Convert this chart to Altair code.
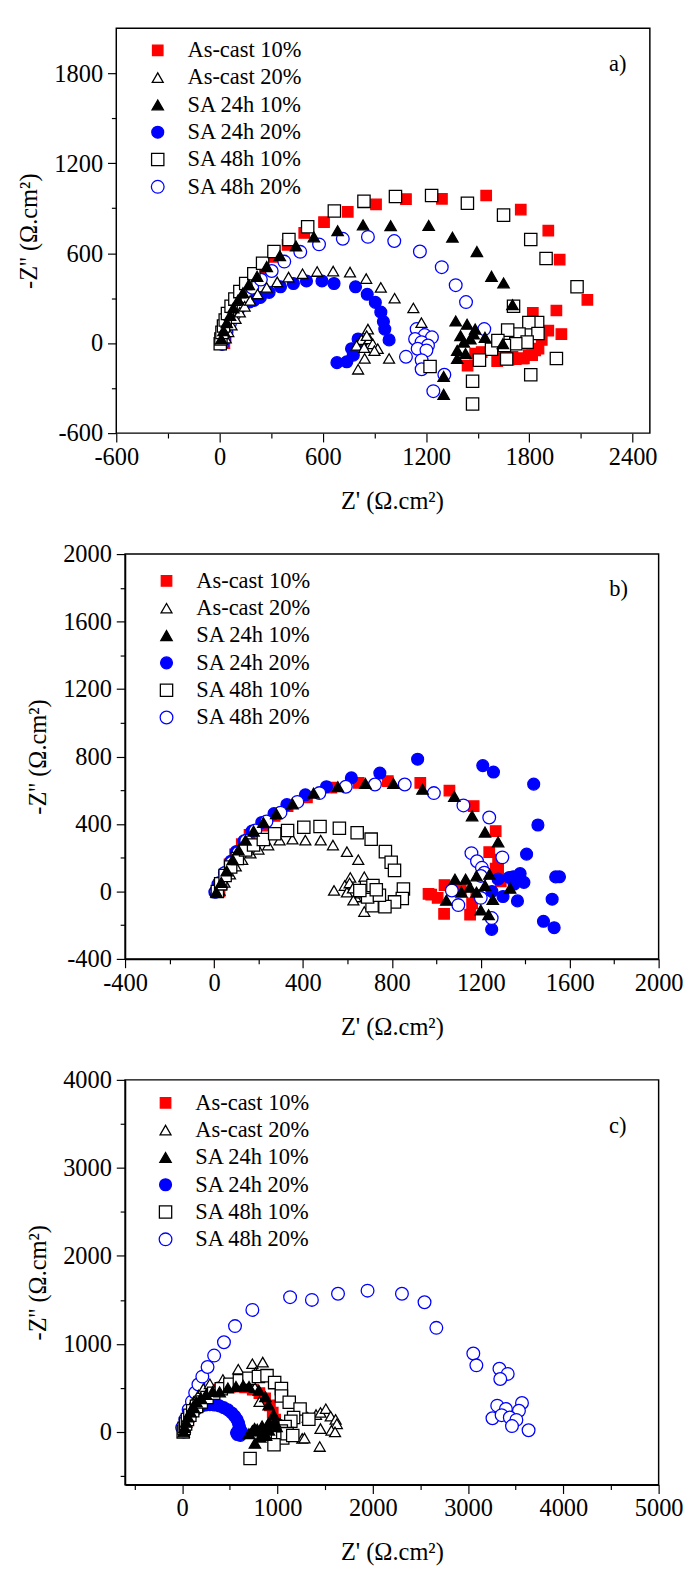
import altair as alt
import pandas as pd

FONT = "Liberation Serif"
SERIES = ["As-cast 10%", "As-cast 20%", "SA 24h 10%", "SA 24h 20%", "SA 48h 10%", "SA 48h 20%"]
SHAPES = ["square", "triangle-up", "triangle-up", "circle", "square", "circle"]
STROKES = ["#ff0000", "#000000", "#000000", "#0000ff", "#000000", "#0000ff"]
FILLS = ["#ff0000", "#ffffff", "#000000", "#0000ff", "#ffffff", "#ffffff"]
SIZES = [115, 170, 170, 115, 100, 120]
DRAW_ORDER = [0, 3, 5, 1, 4, 2]

# ---------------- panel a ----------------
A_AC10_X = [28, 35, 45, 60, 80, 105, 135, 170, 210, 250, 312, 395, 492, 607, 745, 909, 1083, 1292, 1549, 1750, 1910, 1976, 2137, 1957, 1820, 1986, 1910, 1872, 1834, 1796, 1768, 1721, 1680, 1640, 1613, 1523, 1485, 1441, 1853, 1816, 1759, 1702]
A_AC10_Y = [0, 40, 90, 150, 210, 275, 340, 400, 450, 496, 576, 655, 735, 807, 876, 926, 961, 963, 985, 891, 750, 557, 289, 218, 202, 61, 83, 22, -48, -80, -102, -107, -110, -100, -120, -59, -70, -150, -37, -80, -102, -91]
A_AC20_X = [36, 51, 70, 93, 118, 146, 178, 221, 274, 335, 401, 482, 567, 660, 758, 852, 937, 1017, 1126, 1173, 862, 824, 871, 890, 919, 796, 843, 985, 805, 855, 900, 840]
A_AC20_Y = [33, 76, 120, 163, 207, 246, 285, 328, 372, 409, 441, 463, 478, 481, 474, 431, 372, 300, 235, 137, 94, 24, 28, -4, -37, -15, -102, -102, -174, 50, -50, -30]
A_S2410_X = [10, 23, 42, 61, 80, 108, 136, 170, 218, 274, 350, 444, 548, 686, 834, 994, 1215, 1353, 1495, 1580, 1650, 1702, 1372, 1438, 1485, 1542, 1400, 1457, 1419, 1381, 1429, 1381, 1646, 1476, 1302, 1302]
A_S2410_Y = [28, 83, 137, 185, 235, 289, 337, 391, 446, 511, 583, 648, 709, 750, 789, 783, 785, 707, 611, 446, 402, 257, 148, 126, 94, 39, 50, 28, 7, -48, -69, -102, -4, 61, -222, -341]
A_S2420_X = [14, 22, 30, 42, 58, 80, 108, 140, 175, 200, 237, 288, 354, 429, 505, 595, 665, 790, 858, 905, 937, 952, 960, 985, 805, 820, 767, 777, 739, 682]
A_S2420_Y = [-4, 30, 65, 105, 145, 185, 222, 255, 275, 285, 305, 339, 376, 398, 415, 415, 398, 376, 326, 272, 207, 144, 94, 22, 28, -10, -37, -80, -124, -130]
A_S4810_X = [4, 8, 14, 23, 33, 46, 67, 89, 118, 152, 199, 250, 316, 403, 512, 667, 839, 1022, 1232, 1440, 1650, 1808, 1897, 2077, 1708, 1848, 1797, 1850, 1740, 1674, 1787, 1721, 1655, 1580, 1617, 1668, 1510, 1957, 1808, 1223, 1470, 1470]
A_S4810_Y = [-4, 28, 72, 115, 155, 198, 246, 294, 344, 398, 463, 533, 611, 692, 776, 881, 946, 978, 985, 933, 854, 691, 565, 376, 246, 137, 137, 65, 61, 87, 7, -4, -15, -41, 17, -106, -113, -102, -211, -156, -254, -406]
A_S4820_X = [15, 25, 40, 60, 85, 115, 150, 190, 240, 303, 376, 469, 578, 716, 862, 1015, 1164, 1291, 1372, 1432, 1538, 1145, 1192, 1234, 1136, 1174, 1211, 1151, 1202, 1083, 1174, 1174, 1306, 1242]
A_S4820_Y = [-5, 25, 75, 130, 190, 250, 310, 370, 424, 481, 544, 609, 659, 696, 709, 681, 611, 507, 387, 274, 94, 94, 54, 39, 28, 7, -15, -37, -48, -91, -113, -174, -211, -320]

# ---------------- panel b ----------------
B_AC10_X = [25, 35, 50, 70, 95, 125, 160, 222, 273, 331, 418, 528, 651, 782, 928, 1059, 1168, 1267, 1238, 1278, 1267, 1037, 965, 977, 1006, 1035, 1152, 1161, 1278, 1290, 1180, 1110]
B_AC10_Y = [0, 45, 100, 160, 220, 280, 335, 390, 448, 506, 558, 615, 644, 654, 644, 598, 506, 358, 233, 188, 136, 38, -14, -19, -38, -133, -138, -71, 131, 60, -20, 10]
B_AC20_X = [25, 47, 72, 98, 127, 164, 200, 244, 295, 353, 411, 480, 535, 598, 649, 613, 676, 588, 540, 598, 637, 676, 627, 610, 625, 660]
B_AC20_Y = [6, 54, 102, 150, 188, 227, 250, 275, 304, 310, 304, 304, 275, 236, 188, 83, 87, 35, 6, -4, -33, -119, -52, 50, 20, -10]
B_S2410_X = [11, 33, 57, 84, 110, 142, 178, 222, 280, 353, 448, 557, 681, 807, 938, 1081, 1161, 1219, 1278, 1084, 1132, 1181, 1239, 1219, 1151, 1113, 1045, 1200, 1235, 1254, 1332, 1181]
B_S2410_Y = [-4, 54, 121, 188, 246, 304, 358, 409, 461, 519, 583, 621, 640, 640, 606, 563, 448, 352, 294, 73, 73, 92, 102, 35, 25, -4, -52, -110, -138, -48, 19, -4]
B_S2420_X = [4, 18, 47, 76, 101, 135, 171, 215, 270, 328, 411, 506, 618, 746, 916, 1209, 1257, 1438, 1457, 1406, 1377, 1537, 1328, 1278, 1350, 1249, 1482, 1530, 1521, 1554, 1365, 1346, 1394, 1300, 1250]
B_S2420_Y = [-4, 44, 111, 179, 237, 300, 358, 409, 461, 515, 573, 621, 673, 702, 784, 746, 708, 636, 394, 221, 106, 86, 83, 73, 44, -225, -177, -215, -46, 87, -56, 87, 54, -30, 0]
B_S4810_X = [15, 30, 50, 75, 105, 142, 178, 222, 273, 331, 404, 477, 564, 644, 707, 771, 797, 812, 852, 847, 812, 769, 711, 691, 686, 656, 715, 744, 730]
B_S4810_Y = [0, 45, 95, 145, 195, 246, 275, 308, 342, 361, 381, 385, 375, 348, 310, 236, 173, 125, 15, -42, -62, -90, -85, -33, 25, 6, 35, -23, 10]
B_S4820_X = [10, 25, 50, 80, 110, 145, 186, 236, 299, 375, 474, 593, 724, 858, 989, 1122, 1238, 1158, 1183, 1297, 1205, 1216, 1070, 1099, 1200, 1249, 1200]
B_S4820_Y = [0, 50, 110, 170, 230, 300, 361, 415, 467, 531, 583, 621, 634, 634, 583, 510, 438, 227, 179, 202, 140, 111, 6, -81, -38, -158, 92]

# ---------------- panel c ----------------
C_AC10_X = [20, 30, 45, 65, 90, 120, 160, 210, 270, 340, 420, 500, 580, 660, 740, 810, 870, 920, 950, 975, 990, 1000]
C_AC10_Y = [0, 50, 110, 170, 230, 290, 345, 400, 445, 480, 505, 515, 515, 505, 480, 440, 380, 300, 220, 140, 80, 20]
C_AC20_X = [15, 16, 16, 50, 85, 119, 170, 222, 290, 427, 588, 736, 845, 770, 1010, 763, 811, 1027, 1012, 1260, 1317, 1404, 1451, 1507, 1558, 1610, 1623, 1566, 1451, 1604, 1443, 1283]
C_AC20_Y = [0, 60, 123, 197, 270, 344, 418, 491, 547, 595, 712, 775, 793, 676, 554, 503, 344, 97, 55, -74, 166, 197, 221, 263, 178, 142, 92, 18, 37, 0, -166, -70]
C_S2410_X = [15, 25, 40, 60, 85, 115, 150, 195, 250, 320, 393, 479, 564, 640, 701, 804, 873, 907, 959, 907, 838, 787, 736, 763, 820, 850, 880, 910, 740, 700, 760, 990, 970]
C_S2410_Y = [0, 50, 110, 170, 230, 290, 340, 385, 425, 460, 455, 499, 517, 528, 517, 473, 399, 307, 197, 105, 68, 31, 13, -129, -60, 0, -40, 20, 10, -20, 40, 60, 120]
C_S2420_X = [15, 20, 30, 45, 65, 90, 120, 155, 195, 240, 290, 340, 390, 435, 480, 520, 550, 575, 590, 600, 590, 570, 580, 610, 625, 600]
C_S2420_Y = [0, 40, 80, 120, 160, 200, 235, 265, 290, 305, 310, 305, 295, 275, 250, 215, 180, 140, 100, 60, 20, -10, -30, -40, 0, 40]
C_S4810_X = [10, 20, 35, 55, 80, 110, 150, 200, 260, 330, 410, 500, 600, 700, 800, 890, 970, 1041, 1041, 1123, 1237, 1169, 1140, 1080, 1040, 1000, 1055, 963, 1100, 1160, 712, 1329]
C_S4810_Y = [0, 40, 90, 140, 190, 240, 290, 340, 390, 440, 490, 540, 580, 610, 630, 639, 560, 492, 407, 337, 260, 163, 120, 60, 10, -31, -70, -147, -20, -40, -302, 143]
C_S4820_X = [-1, 33, 67, 102, 136, 170, 211, 266, 335, 438, 554, 736, 1132, 1361, 1635, 1945, 2306, 2543, 2667, 3055, 3087, 3329, 3416, 3338, 3566, 3306, 3397, 3534, 3256, 3352, 3438, 3507, 3461, 3635]
C_S4820_Y = [49, 141, 252, 344, 444, 539, 628, 738, 867, 1018, 1202, 1386, 1531, 1500, 1570, 1605, 1570, 1473, 1182, 891, 756, 717, 659, 601, 329, 298, 260, 240, 155, 190, 163, 136, 66, 19]

# axis ticks
A_XTICKS = list(range(-600, 2401, 300)); A_YTICKS = list(range(-600, 1801, 300))
B_XTICKS = list(range(-400, 2001, 200)); B_YTICKS = list(range(-400, 2001, 200))
C_XTICKS = list(range(-500, 5001, 500)); C_YTICKS = list(range(-500, 4001, 500))

PLOT_W, PLOT_H = 547, 415
EXTRA_A = 18  # invisible strip on the right of panel a (shifts panels b, c when centred)


def build_df(xs, ys):
    rows = []
    for si in DRAW_ORDER:
        for x, y in zip(xs[si], ys[si]):
            rows.append({"x": x, "y": y, "series": SERIES[si], "idx": len(rows)})
    return pd.DataFrame(rows)


def make_axis(vals, maj, title, pad, tpad, domain=True):
    return alt.Axis(
        values=vals, title=title, labelPadding=pad, titlePadding=tpad,
        labelFont=FONT, labelFontSize=25, labelColor="black",
        titleFont=FONT, titleFontSize=25, titleFontWeight="normal", titleColor="black",
        labelFlush=False, labelOverlap=False, grid=False, domain=domain,
        domainColor="black", domainWidth=1.5, tickColor="black", tickWidth=1.2,
        labelExpr=f"datum.value % {maj} === 0 ? datum.value + '' : ''",
        tickSize={"condition": {"test": f"datum.value % {maj} === 0", "value": 9}, "value": 5},
    )


def panel(df, xdom, ydom, xt, yt, xmaj, ymaj, tag, tag_xy, leg_xy, extra=0):
    legend = alt.Legend(orient="none", legendX=leg_xy[0], legendY=leg_xy[1], direction="vertical",
                        labelFont=FONT, labelFontSize=23, labelColor="black", labelOffset=19,
                        labelLimit=400, symbolStrokeWidth=1.3, rowPadding=4, padding=0)
    xtitle = "Z' (Ω.cm²)" + ("\u00a0" * 3 if extra else "")
    pts = alt.Chart(df).mark_point(strokeWidth=1.3, opacity=1).encode(
        x=alt.X("x:Q", scale=alt.Scale(domain=xdom, nice=False, zero=False),
                axis=make_axis(xt, xmaj, xtitle, 3, 20, domain=not extra)),
        y=alt.Y("y:Q", scale=alt.Scale(domain=ydom, nice=False, zero=False),
                axis=make_axis(yt, ymaj, "-Z'' (Ω.cm²)", 5, 13, domain=not extra)),
        shape=alt.Shape("series:N", scale=alt.Scale(domain=SERIES, range=SHAPES), legend=legend, title=None),
        stroke=alt.Stroke("series:N", scale=alt.Scale(domain=SERIES, range=STROKES), legend=legend, title=None),
        fill=alt.Fill("series:N", scale=alt.Scale(domain=SERIES, range=FILLS), legend=legend, title=None),
        size=alt.Size("series:N", scale=alt.Scale(domain=SERIES, range=SIZES), legend=legend, title=None),
        order=alt.Order("idx:Q"),
    )
    tag_chart = alt.Chart(pd.DataFrame({"t": [tag]})).mark_text(
        font=FONT, fontSize=23, color="black").encode(
        text="t:N", x=alt.value(tag_xy[0]), y=alt.value(tag_xy[1]))
    if not extra:
        return alt.layer(pts, tag_chart).properties(width=PLOT_W, height=PLOT_H)
    frame = alt.Chart(pd.DataFrame({"v": [0]})).mark_rect(
        fill="transparent", stroke="black", strokeWidth=1.5).encode(
        x=alt.value(0), x2=alt.value(PLOT_W), y=alt.value(0), y2=alt.value(PLOT_H))
    return alt.layer(pts, tag_chart, frame).properties(
        width=PLOT_W + extra, height=PLOT_H,
        view=alt.ViewBackground(stroke="transparent", strokeWidth=0))


dfa = build_df([A_AC10_X, A_AC20_X, A_S2410_X, A_S2420_X, A_S4810_X, A_S4820_X],
               [A_AC10_Y, A_AC20_Y, A_S2410_Y, A_S2420_Y, A_S4810_Y, A_S4820_Y])
dfb = build_df([B_AC10_X, B_AC20_X, B_S2410_X, B_S2420_X, B_S4810_X, B_S4820_X],
               [B_AC10_Y, B_AC20_Y, B_S2410_Y, B_S2420_Y, B_S4810_Y, B_S4820_Y])
dfc = build_df([C_AC10_X, C_AC20_X, C_S2410_X, C_S2420_X, C_S4810_X, C_S4820_X],
               [C_AC10_Y, C_AC20_Y, C_S2410_Y, C_S2420_Y, C_S4810_Y, C_S4820_Y])

# panel a x-domain is widened so that 547 px still span -600..2500
a_xmax = 2500 + 3100 * EXTRA_A / PLOT_W
pa = panel(dfa, [-600, a_xmax], [-600, 2100], A_XTICKS, A_YTICKS, 600, 600, "a)", (514, 37), (31, 11), extra=EXTRA_A)
pb = panel(dfb, [-400, 2000], [-400, 2000], B_XTICKS, B_YTICKS, 400, 400, "b)", (506, 36), (31, 16))
pc = panel(dfc, [-600, 5000], [-600, 4000], C_XTICKS, C_YTICKS, 1000, 1000, "c)", (505, 47), (30, 12))

chart = alt.vconcat(pa, pb, pc, spacing=124, bounds="flush", center=True).resolve_scale(
    shape="independent", stroke="independent", fill="independent", size="independent",
    x="independent", y="independent"
).properties(
    padding={"left": 9, "top": 0, "right": 0, "bottom": 0}
).configure_view(stroke="black", strokeWidth=1.5)

chart.save("out.html", embed_options={"renderer": "svg", "actions": False})
